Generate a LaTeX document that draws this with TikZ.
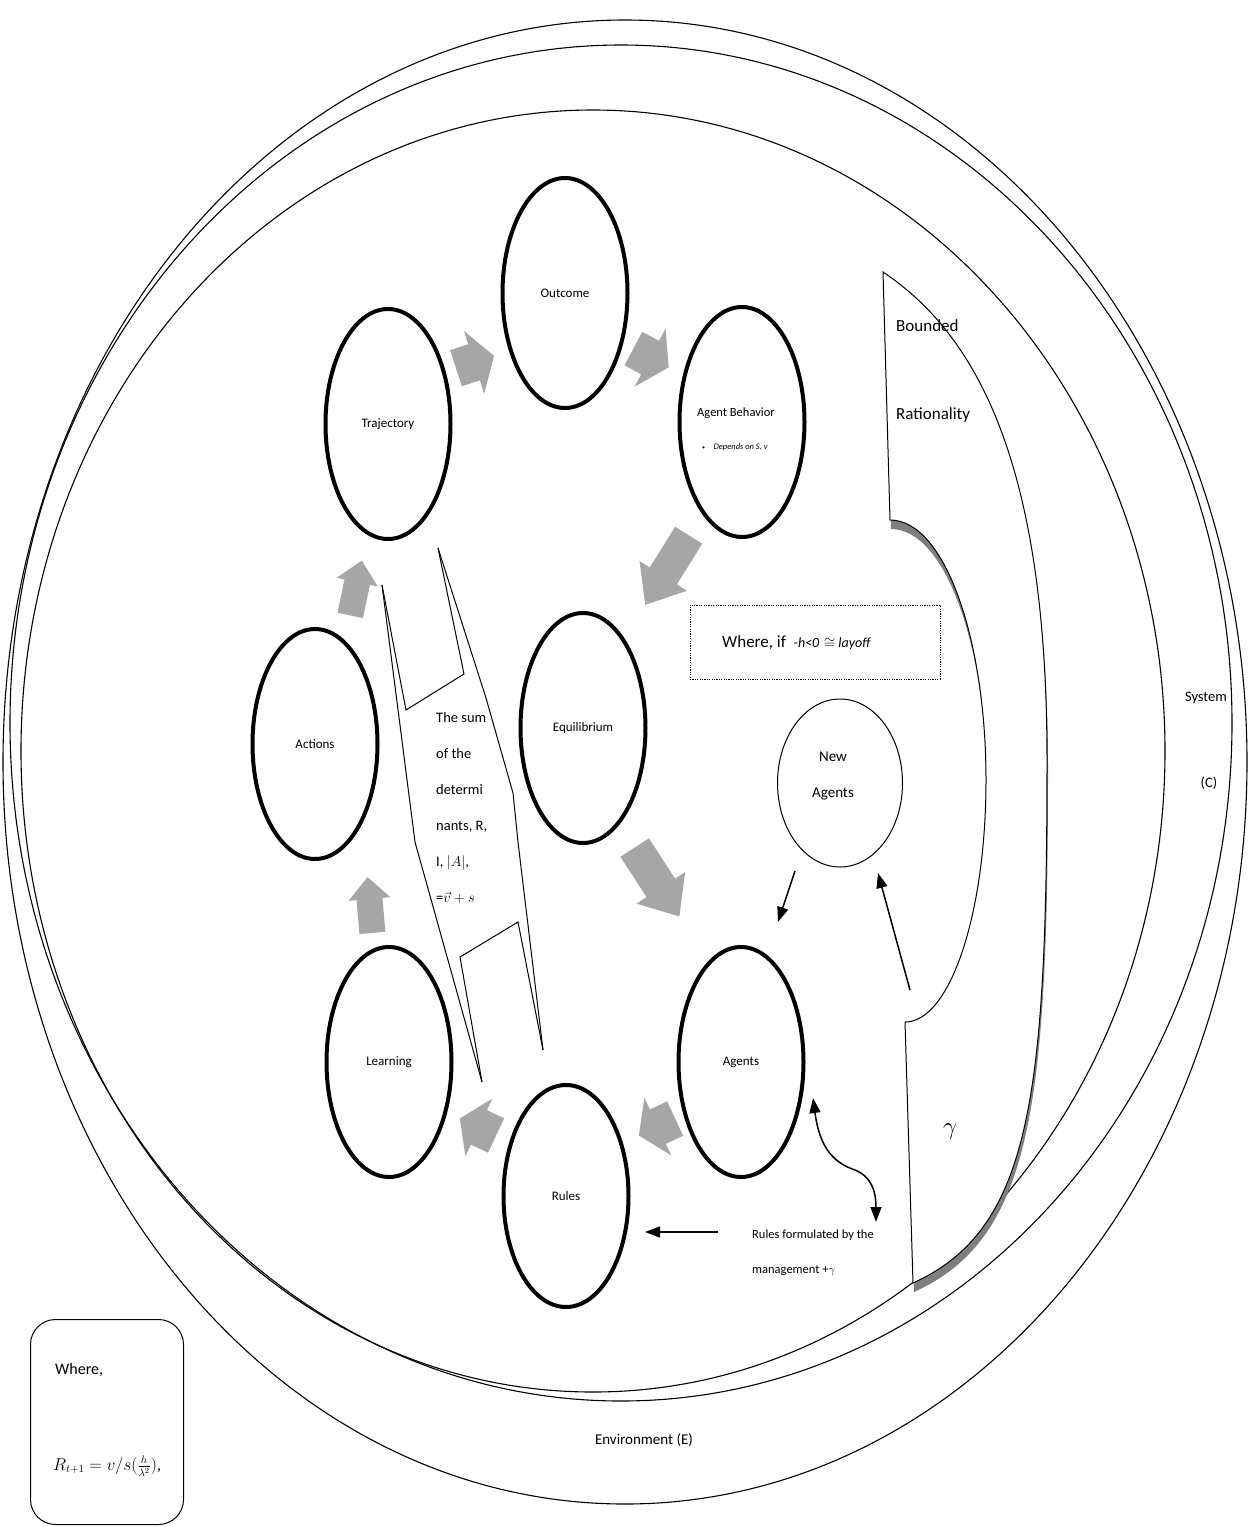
\documentclass[tikz,border=0pt]{standalone}
\usepackage{amsmath}
\usepackage{fontspec}
\setmainfont{Carlito}
\usetikzlibrary{shapes.geometric,arrows.meta}
\definecolor{arrowgrey}{HTML}{A6A6A6}
\definecolor{shadowgrey}{HTML}{7F7F7F}
\tikzset{
  stage/.style={ellipse, draw, line width=4pt, minimum width=125pt, minimum height=230pt,
    inner sep=0pt, font=\fontsize{13}{15}\selectfont},
  ring/.style={line width=1.1pt},
  outline/.style={line width=1pt},
  pointer/.style={-{Triangle[length=15pt,width=11pt]}, line width=1.5pt},
  twoway/.style={{Triangle[length=15pt,width=11pt]}-{Triangle[length=15pt,width=11pt]}, line width=1.5pt},
  label/.style={inner sep=0pt, anchor=west},
  pics/blockarrow/.style args={#1/#2/#3/#4}{code={
    \fill[arrowgrey] (-#1/2,-#2) -- (#1/2-#4,-#2) -- (#1/2-#4,-#3) -- (#1/2,0)
      -- (#1/2-#4,#3) -- (#1/2-#4,#2) -- (-#1/2,#2) -- cycle;}},
  % outline of the bounded rationality band
  bandpath/.style={insert path={
    (883,-272) .. controls (985,-340) and (1047,-480) .. (1047,-760)
    .. controls (1047,-1100) and (1030,-1230) .. (913,-1283)
    -- (905,-1022)
    .. controls (950,-1022) and (986,-914) .. (986,-780)
    .. controls (986,-640) and (945,-520) .. (890,-520) -- cycle}},
}
\begin{document}
\begin{tikzpicture}[x=1pt,y=1pt]
\useasboundingbox (0,0) rectangle (1258,-1527);
\fill[white] (0,0) rectangle (1258,-1527);

% environment and system boundaries
\draw[ring] (625,-762) ellipse [x radius=622pt, y radius=742pt];
\draw[ring] (621,-723) ellipse [x radius=611pt, y radius=678pt];
\draw[ring] (593,-751) ellipse [x radius=572pt, y radius=641pt];

% bounded rationality band with its shadow
\fill[shadowgrey, shift={(1,-9)}] [bandpath];
\filldraw[fill=white, outline] [bandpath];
\node[label, font=\fontsize{17}{20}\selectfont] (bounded) at (896,-326) {Bounded};
\node[label, font=\fontsize{17}{20}\selectfont] (rational) at (896,-415) {Rationality};
\node[inner sep=0pt, font=\fontsize{32}{38}\selectfont] (gamma) at (950,-1132) {$\gamma$};

% cycle of stages
\node[stage] (outcome) at (565,-293) {Outcome};
\node[stage] (behav) at (742,-422) {};
\node[inner sep=0pt, font=\fontsize{12.5}{15}\selectfont] (behavtxt) at (736,-413) {Agent Behavior};
\node[inner sep=0pt, font=\fontsize{8.5}{10}\selectfont] (behavnote) at (735,-447)
  {{\fontsize{6}{7}\selectfont\textbullet}\quad\textit{Depends on S, v}};
\node[stage] (traj) at (388,-424) {Trajectory};
\node[stage] (equil) at (583,-728) {Equilibrium};
\node[stage] (actions) at (315,-744) {Actions};
\node[stage] (learning) at (389,-1062) {Learning};
\node[stage] (agents) at (741,-1062) {Agents};
\node[stage, minimum height=222pt] (rules) at (566,-1196) {Rules};

% grey block arrows between stages
\pic[rotate=18] at (475,-362) {blockarrow=40/19/33/21};
\pic[rotate=-28] at (651,-358) {blockarrow=40/19/33/21};
\pic[rotate=238] at (667,-570) {blockarrow=82/16/28/34};
\pic[rotate=-57] at (657,-882) {blockarrow=82/17/29/34};
\pic[rotate=205] at (657,-1127) {blockarrow=40/19/32/21};
\pic[rotate=155] at (478,-1127) {blockarrow=40/19/32/21};
\pic[rotate=95] at (370,-905) {blockarrow=56/13/21/22};
\pic[rotate=78] at (356,-588) {blockarrow=56/13/21/22};

% callout carrying the sum of the determinants
\draw[outline] (438,-548) -- (464,-674) -- (406,-710) -- (382,-585);
\draw[outline] (382,-585) -- (415,-842) -- (482,-1082);
\draw[outline] (438,-548) -- (486,-698) -- (513,-793) -- (518,-842) -- (543,-1050);
\draw[outline] (482,-1082) -- (460,-957) -- (518,-922) -- (543,-1050);
\node[inner sep=0pt, anchor=north west, align=left, font=\fontsize{14.5}{36}\selectfont]
  (sumtxt) at (436,-712) {The sum\\of the\\determi\\nants, R,\\I, $|A|$,\\=$\vec{v}+s$};

% layoff condition
\node[draw, line width=1pt, dash pattern=on 1.2pt off 1.2pt, minimum width=250pt,
  minimum height=74pt, inner sep=0pt] (cond) at (815,-642) {};
\node[label, font=\fontsize{17}{20}\selectfont] (condtxt) at (722,-643)
  {Where, if\ \ {\fontsize{14}{17}\selectfont\textit{-h<0}\,\,$\cong$\ \textit{layoff}}};

% new agents
\node[ellipse, draw, outline, minimum width=125pt, minimum height=168pt, inner sep=0pt]
  (newag) at (840,-783) {};
\node[inner sep=0pt, align=center, font=\fontsize{15}{36}\selectfont] (newagtxt)
  at (833,-776) {New\\Agents};

% black connectors
\coordinate (na0) at (795,-871);
\coordinate (na1) at (778,-922);
\draw[pointer] (na0) -- (na1);
\coordinate (ga0) at (910,-990);
\coordinate (ga1) at (878,-873);
\draw[pointer] (ga0) -- (ga1);
\coordinate (cv0) at (813,-1098);
\coordinate (cv1) at (876,-1222);
\draw[twoway] (cv0) .. controls (820,-1150) and (835,-1163) .. (855,-1170)
  .. controls (872,-1177) and (876,-1192) .. (cv1);
\coordinate (rf0) at (718,-1232);
\coordinate (rf1) at (645,-1232);
\draw[pointer] (rf0) -- (rf1);
\node[label, align=left, font=\fontsize{12.5}{35}\selectfont] (mgmt) at (752,-1253)
  {Rules formulated by the\\management +$\gamma$};

% ring labels
\node[inner sep=0pt, font=\fontsize{14.5}{17}\selectfont] (system) at (1206,-698) {System};
\node[inner sep=0pt, font=\fontsize{14.5}{17}\selectfont] (sysc) at (1209,-783) {(C)};
\node[inner sep=0pt, font=\fontsize{15}{18}\selectfont] (env) at (644,-1440) {Environment (E)};

% key for the rule update
\node[draw, fill=white, outline, rounded corners=25pt, minimum width=153pt,
  minimum height=205pt, inner sep=0pt] (key) at (107,-1422) {};
\node[label, font=\fontsize{16}{19}\selectfont] (keyhead) at (55,-1370) {Where,};
\node[label, font=\fontsize{16}{19}\selectfont] (keyrule) at (53,-1466)
  {$R_{t+1}=v/s(\frac{h}{\lambda^{2}})$,};
\end{tikzpicture}
\end{document}
